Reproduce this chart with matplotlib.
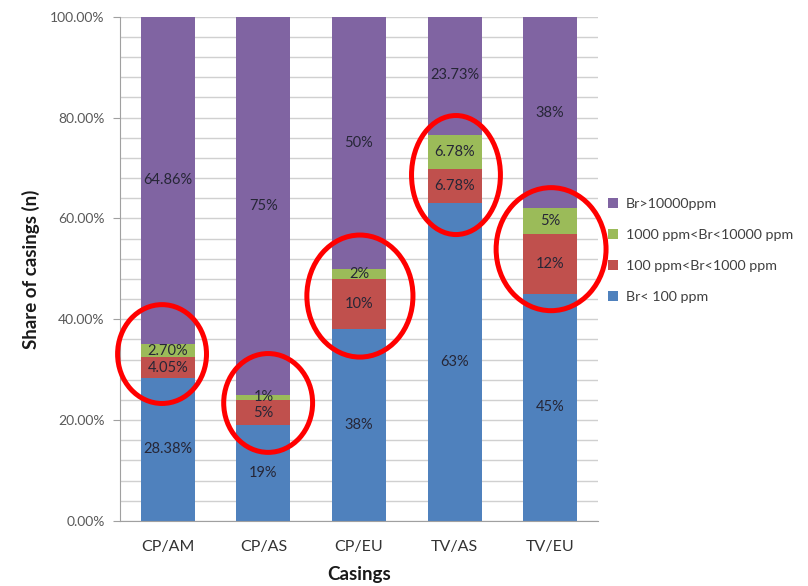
import matplotlib
matplotlib.use("Agg")
import matplotlib.pyplot as plt
from matplotlib.patches import Ellipse
from matplotlib.ticker import MultipleLocator, PercentFormatter

plt.rcParams["font.family"] = ["Lato", "DejaVu Sans"]

# ── data ──────────────────────────────────────────────
categories = ["CP/AM", "CP/AS", "CP/EU", "TV/AS", "TV/EU"]
series_names = ["Br< 100 ppm", "100 ppm<Br<1000 ppm",
                "1000 ppm<Br<10000 ppm", "Br>10000ppm"]
br_low = [28.38, 19, 38, 63, 45]
br_mid = [4.05, 5, 10, 6.78, 12]
br_high = [2.70, 1, 2, 6.78, 5]
br_top = [64.86, 75, 50, 23.73, 38]
labels_low = ["28.38%", "19%", "38%", "63%", "45%"]
labels_mid = ["4.05%", "5%", "10%", "6.78%", "12%"]
labels_high = ["2.70%", "1%", "2%", "6.78%", "5%"]
labels_top = ["64.86%", "75%", "50%", "23.73%", "38%"]
colors = ["#4F81BD", "#C0504D", "#9BBB59", "#8064A2"]

# red hand-drawn circles: (x offset, y centre, width, height)
circles = [(-0.06, 33.1, 0.93, 19.6), (0.05, 23.4, 0.93, 19.6),
           (0.01, 44.6, 1.11, 24.2), (0.015, 68.6, 0.93, 23.6),
           (0.01, 53.9, 1.15, 24.4)]

# ── figure ────────────────────────────────────────────
fig = plt.figure(figsize=(8.08, 5.86), dpi=100)
ax = fig.add_axes([0.1485, 0.111, 0.5915, 0.8605])

x = list(range(len(categories)))
series = [br_low, br_mid, br_high, br_top]
labels = [labels_low, labels_mid, labels_high, labels_top]
bottom = [0] * len(categories)
bars = []
for vals, lbls, col, name in zip(series, labels, colors, series_names):
    b = ax.bar(x, vals, width=0.565, bottom=bottom, color=col, label=name,
               zorder=2)
    bars.append(b)
    for xi, v, bt, t in zip(x, vals, bottom, lbls):
        ax.text(xi, bt + v / 2, t, ha="center", va="center", fontsize=10.5,
                color="#262636", zorder=4)
    bottom = [bt + v for bt, v in zip(bottom, vals)]

for (dx, yc, w, h), xi in zip(circles, x):
    ax.add_patch(Ellipse((xi + dx, yc), w, h, fill=False, edgecolor="#FF0000",
                         linewidth=3.6, zorder=5, clip_on=False))

ax.set_xlim(-0.5, len(categories) - 0.5)
ax.set_ylim(0, 100)
ax.yaxis.set_major_locator(MultipleLocator(20))
ax.yaxis.set_minor_locator(MultipleLocator(4))
ax.yaxis.set_major_formatter(PercentFormatter(decimals=2))
ax.grid(axis="y", which="both", color="#D0D0D0", linewidth=1, zorder=0)
ax.set_axisbelow(True)

ax.set_xticks(x)
ax.set_xticklabels(categories, fontsize=11.5, color="#333333")
ax.tick_params(axis="x", length=0, pad=14)
ax.tick_params(axis="y", which="major", length=5, color="#A0A0A0",
               labelsize=10, labelcolor="#595959", pad=6)
ax.tick_params(axis="y", which="minor", length=0)

for s in ["top", "right"]:
    ax.spines[s].set_visible(False)
ax.spines["left"].set_color("#A0A0A0")
ax.spines["bottom"].set_color("#A0A0A0")

ax.set_ylabel("Share of casings (n)", fontsize=13.5, fontweight="bold",
              color="#1a1a1a", labelpad=7)
ax.set_xlabel("Casings", fontsize=13.5, fontweight="bold", color="#1a1a1a",
              labelpad=8)

handles = bars[::-1]
fig.legend(handles, series_names[::-1], loc="upper left",
           bbox_to_anchor=(0.737, 0.684), frameon=False, fontsize=10.3,
           handlelength=0.7, handleheight=0.7, handletextpad=0.5,
           labelspacing=1.32, labelcolor="#404040")

fig.savefig("out.png", dpi=100, facecolor="white")
